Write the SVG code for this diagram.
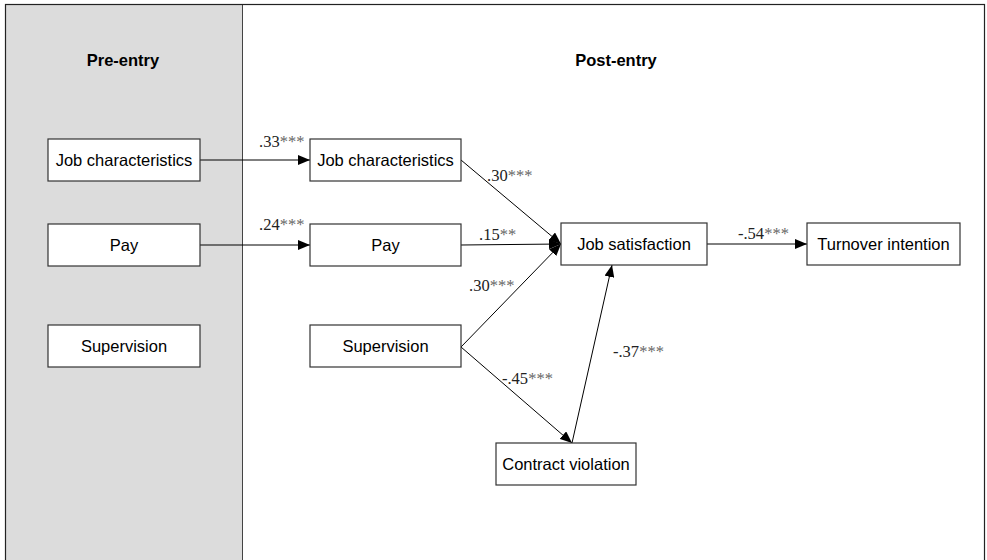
<svg xmlns="http://www.w3.org/2000/svg" width="987" height="560" viewBox="0 0 987 560">
<defs>
<marker id="ah" viewBox="0 0 12 10" refX="12" refY="5" markerWidth="12" markerHeight="10" markerUnits="userSpaceOnUse" orient="auto">
<path d="M0,0 L12,5 L0,10 z" fill="#000"/>
</marker>
<style>
.box{fill:#fff;stroke:#333;stroke-width:1.2}
.lbl{font-family:"Liberation Sans",Arial,sans-serif;font-size:16.5px;fill:#000;text-anchor:middle}
.hdr{font-family:"Liberation Sans",Arial,sans-serif;font-size:16.5px;font-weight:bold;fill:#000;text-anchor:middle}
.num{font-family:"Liberation Serif","Times New Roman",serif;font-size:16.5px;fill:#222}
.ast{fill:#666}
.edge{stroke:#000;stroke-width:1;fill:none;marker-end:url(#ah)}
</style>
</defs>
<rect x="0" y="0" width="987" height="560" fill="#fff"/>
<g id="frame">
<rect x="5.5" y="4.5" width="237" height="570" fill="#dcdcdc" stroke="#444" stroke-width="1"/>
<rect x="5.5" y="4.5" width="979" height="570" fill="none" stroke="#222" stroke-width="1.2"/>
<text class="hdr" x="123" y="66">Pre-entry</text>
<text class="hdr" x="616" y="66">Post-entry</text>
</g>
<g id="connectors">
<line class="edge" x1="200" y1="160" x2="310" y2="160"/>
<line class="edge" x1="200" y1="245" x2="310" y2="245"/>
<line class="edge" x1="461" y1="160" x2="561" y2="244"/>
<line class="edge" x1="461" y1="245" x2="561" y2="244"/>
<line class="edge" x1="461" y1="347" x2="561" y2="244"/>
<line class="edge" x1="707" y1="244" x2="807" y2="244"/>
<line class="edge" x1="461" y1="347" x2="572" y2="443"/>
<line class="edge" x1="572" y1="443" x2="612" y2="265"/>
<text class="num" x="259" y="147">.33<tspan class="ast">***</tspan></text>
<text class="num" x="259" y="230">.24<tspan class="ast">***</tspan></text>
<text class="num" x="487" y="181">.30<tspan class="ast">***</tspan></text>
<text class="num" x="479" y="240">.15<tspan class="ast">**</tspan></text>
<text class="num" x="469" y="291">.30<tspan class="ast">***</tspan></text>
<text class="num" x="502" y="384">-.45<tspan class="ast">***</tspan></text>
<text class="num" x="613" y="357">-.37<tspan class="ast">***</tspan></text>
<text class="num" x="738" y="239">-.54<tspan class="ast">***</tspan></text>
</g>
<g id="pre-job"><rect class="box" x="48" y="139" width="152" height="42"/><text class="lbl" x="124" y="166">Job characteristics</text></g>
<g id="pre-pay"><rect class="box" x="48" y="224" width="152" height="42"/><text class="lbl" x="124" y="251">Pay</text></g>
<g id="pre-sup"><rect class="box" x="48" y="325" width="152" height="42"/><text class="lbl" x="124" y="352">Supervision</text></g>
<g id="post-job"><rect class="box" x="310" y="139" width="151" height="42"/><text class="lbl" x="385.5" y="166">Job characteristics</text></g>
<g id="post-pay"><rect class="box" x="310" y="224" width="151" height="42"/><text class="lbl" x="385.5" y="251">Pay</text></g>
<g id="post-sup"><rect class="box" x="310" y="325" width="151" height="42"/><text class="lbl" x="385.5" y="352">Supervision</text></g>
<g id="job-sat"><rect class="box" x="561" y="223" width="146" height="42"/><text class="lbl" x="634" y="250">Job satisfaction</text></g>
<g id="turnover"><rect class="box" x="807" y="223" width="153" height="42"/><text class="lbl" x="883.5" y="250">Turnover intention</text></g>
<g id="contract"><rect class="box" x="496" y="443" width="140" height="42"/><text class="lbl" x="566" y="470">Contract violation</text></g>
</svg>
